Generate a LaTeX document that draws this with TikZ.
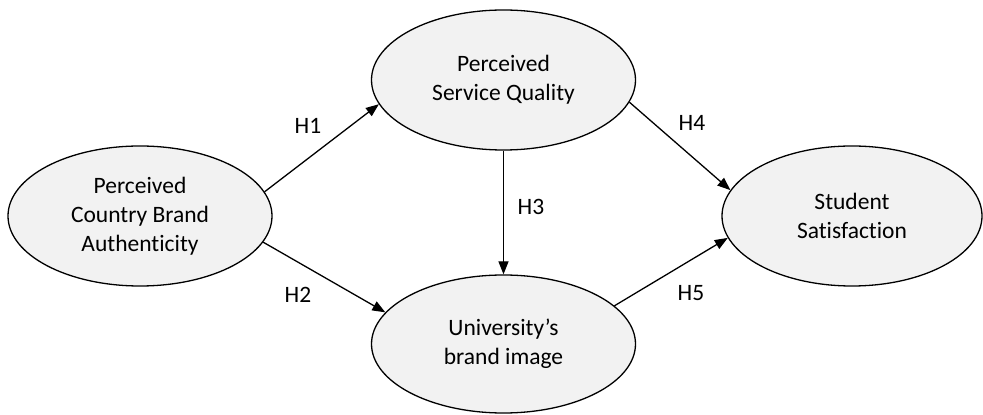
\documentclass[tikz,border=0pt]{standalone}
\usepackage{amsmath, amssymb}
\usepackage{xcolor}
\usepackage{fontspec}
\setmainfont{Carlito}[Ligatures={NoCommon, NoContextual}]
\usetikzlibrary{shapes.geometric, arrows.meta}

\definecolor{bubblefill}{HTML}{F2F2F2}

\begin{document}
\begin{tikzpicture}[x=1pt, y=1pt,
        construct/.style={ellipse, draw=black, line width=1.3pt, fill=bubblefill,
            inner sep=0pt, minimum width=264pt, minimum height=140pt,
            align=center, font=\fontsize{23.5}{29}\selectfont},
        path/.style={line width=1.3pt, -{Triangle[length=13pt, width=10pt]}},
        hyp/.style={font=\fontsize{23.5}{29}\selectfont}]
        \useasboundingbox (0,0) rectangle (983,415);

        \node[construct] (pcba) at (140,199) {Perceived\\Country Brand\\Authenticity};
        \node[construct] (psq) at (503.5,335) {Perceived\\Service Quality};
        \node[construct, minimum height=138pt] (ubi) at (503.5,71) {University’s\\brand image};
        \node[construct, minimum width=260pt] (ss) at (852,199) {Student\\Satisfaction};

        \draw[path] (pcba.11) -- (psq.191);
        \draw[path] (pcba.-12) -- (ubi.165);
        \draw[path] (psq.south) -- (ubi.north);
        \draw[path] (psq.-10) -- (ss.168);
        \draw[path] (ubi.19) -- (ss.190); % into satisfaction

        \node[hyp] (h1) at (308,289) {H1};
        \node[hyp] (h2) at (298,120) {H2};
        \node[hyp] (h3) at (531,208) {H3};
        \node[hyp] (h4) at (692,292) {H4};
        \node[hyp] (h5) at (691,122) {H5};
    \end{tikzpicture}
\end{document}
